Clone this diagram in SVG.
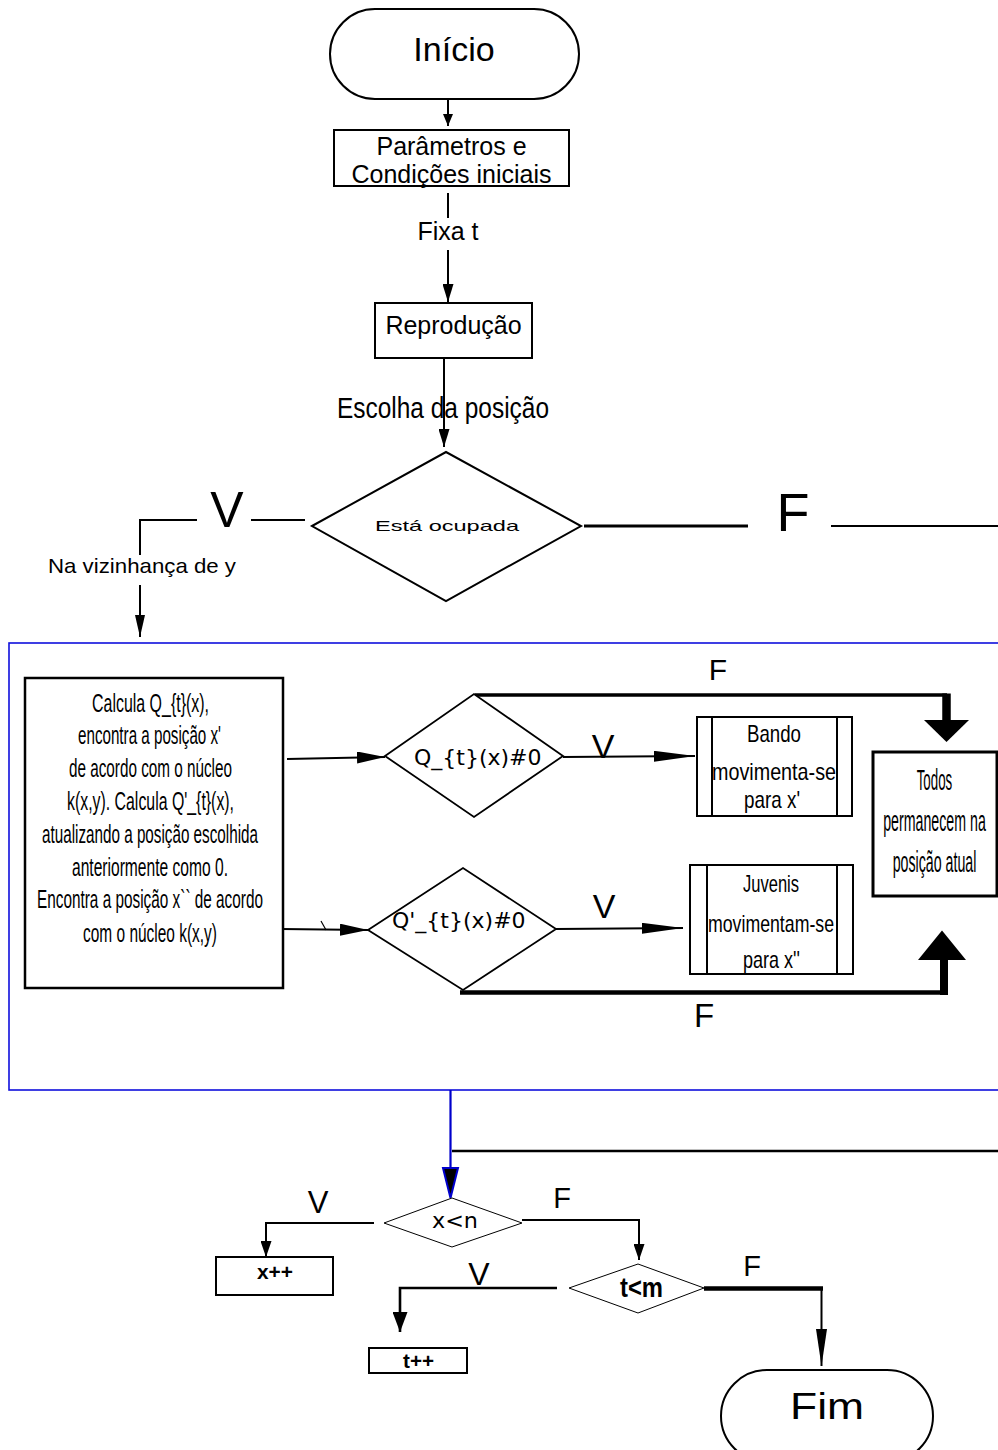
<svg xmlns="http://www.w3.org/2000/svg" width="998" height="1450" viewBox="0 0 998 1450">
<style>
.n{fill:#fff;stroke:#000;stroke-width:2}
.thin{fill:#fff;stroke:#000;stroke-width:1}
.c{fill:none;stroke:#000;stroke-width:2}
.ck{fill:none;stroke:#000;stroke-width:3.5}
.t{font-family:"Liberation Sans",Arial,sans-serif;fill:#000}
.d{font-family:"DejaVu Sans","Liberation Sans",sans-serif;fill:#000}
.m{text-anchor:middle}
</style>
<defs>
<marker id="mA" markerUnits="userSpaceOnUse" markerWidth="12" markerHeight="10" refX="12" refY="5" orient="auto"><path d="M0,0 L12,5 L0,10 z"/></marker>
<marker id="mB" markerUnits="userSpaceOnUse" markerWidth="18" markerHeight="11" refX="18" refY="5.5" orient="auto"><path d="M0,0 L18,5.5 L0,11 z"/></marker>
<marker id="mC" markerUnits="userSpaceOnUse" markerWidth="22" markerHeight="10" refX="22" refY="5" orient="auto"><path d="M0,0 L22,5 L0,10 z"/></marker>
<marker id="mIn" markerUnits="userSpaceOnUse" markerWidth="28" markerHeight="12" refX="28" refY="6" orient="auto"><path d="M0,0 L28,6 L0,12 z"/></marker>
<marker id="mL" markerUnits="userSpaceOnUse" markerWidth="41" markerHeight="11" refX="41" refY="5.5" orient="auto"><path d="M0,0 L41,5.5 L0,11 z"/></marker>
<marker id="mD" markerUnits="userSpaceOnUse" markerWidth="16" markerHeight="11" refX="16" refY="5.5" orient="auto"><path d="M0,0 L16,5.5 L0,11 z"/></marker>
<marker id="mE" markerUnits="userSpaceOnUse" markerWidth="20" markerHeight="15" refX="20" refY="7.5" orient="auto"><path d="M0,0 L20,7.5 L0,15 z"/></marker>
<marker id="mF" markerUnits="userSpaceOnUse" markerWidth="37" markerHeight="11" refX="37" refY="5.5" orient="auto"><path d="M0,0 L37,5.5 L0,11 z"/></marker>
</defs>

<!-- blue frame -->
<rect id="frame" x="9" y="643" width="1000" height="447" fill="none" stroke="#1010dd" stroke-width="1.6"/>

<g id="connectors">
  <line class="c" x1="448" y1="95" x2="448" y2="126" marker-end="url(#mA)"/>
  <line class="c" x1="448" y1="193" x2="448" y2="218"/>
  <line class="c" x1="448" y1="250" x2="448" y2="302" marker-end="url(#mB)"/>
  <line class="c" x1="444" y1="358" x2="444" y2="447" marker-end="url(#mB)"/>
  <!-- Está ocupada V -->
  <polyline class="c" points="197,520 140,520 140,555"/>
  <line class="c" x1="251" y1="520" x2="305" y2="520"/>
  <line class="c" x1="140" y1="585" x2="140" y2="637" marker-end="url(#mC)"/>
  <!-- Está ocupada F -->
  <line class="ck" x1="584" y1="526" x2="748" y2="526" style="stroke-width:3"/>
  <line class="c" x1="831" y1="526" x2="998" y2="526"/>
  <!-- inner -->
  <line class="c" x1="287" y1="759" x2="385" y2="757" marker-end="url(#mIn)"/>
  <line class="c" x1="281" y1="929" x2="368" y2="930" marker-end="url(#mIn)"/>
  <line class="c" x1="321" y1="921" x2="326" y2="930" style="stroke-width:1.2"/>
  <line class="c" x1="563" y1="757" x2="695" y2="756" marker-end="url(#mL)"/>
  <line class="c" x1="556" y1="929" x2="683" y2="928" marker-end="url(#mL)"/>
  <!-- F top -->
  <polyline class="ck" points="475,695 947,695" style="stroke-width:3.3"/>
  <line x1="946.5" y1="693.5" x2="946.5" y2="721" stroke="#000" stroke-width="8.5"/>
  <polygon points="924,720 969,720 946.5,742" fill="#000"/>
  <!-- F bottom -->
  <line x1="460" y1="992.5" x2="948" y2="992.5" stroke="#000" stroke-width="4.5"/>
  <line x1="944" y1="995" x2="944" y2="959" stroke="#000" stroke-width="8"/>
  <polygon points="918,960 966,960 942,930.5" fill="#000"/>
  <!-- bottom loop -->
  <line x1="450.5" y1="1090" x2="450.5" y2="1168" stroke="#0000cc" stroke-width="2.2"/>
  <polygon points="443,1168 458,1168 450.5,1198" fill="#000" stroke="#0000cc" stroke-width="2"/>
  <line x1="452" y1="1151" x2="998" y2="1151" stroke="#000" stroke-width="2.6"/>
  <polyline class="c" points="374,1223 266,1223 266,1257" marker-end="url(#mD)"/>
  <polyline class="c" points="522,1220 639,1220 639,1260" marker-end="url(#mD)"/>
  <polyline class="c" points="557,1288 400,1288 400,1332" style="stroke-width:2.6" marker-end="url(#mE)"/>
  <line x1="704" y1="1288.5" x2="823" y2="1288.5" stroke="#000" stroke-width="4.5"/>
  <line class="c" x1="821.5" y1="1287" x2="821.5" y2="1366" marker-end="url(#mF)"/>
</g>

<g id="inicio">
  <rect class="n" x="330" y="9" width="249" height="90" rx="45"/>
  <text class="t m" x="454" y="61" font-size="34">Início</text>
</g>
<g id="parametros">
  <rect class="n" x="334" y="130" width="235" height="56"/>
  <text class="t m" x="451.5" y="155" font-size="25">Parâmetros e</text>
  <text class="t m" x="451.5" y="183" font-size="25">Condições iniciais</text>
</g>
<g id="fixa">
  <text class="t m" x="448" y="240" font-size="25">Fixa t</text>
</g>
<g id="reproducao">
  <rect class="n" x="375" y="303" width="157" height="55"/>
  <text class="t m" x="453.5" y="334" font-size="25">Reprodução</text>
</g>
<g id="escolha">
  <text class="t" x="337" y="418" font-size="29" textLength="212" lengthAdjust="spacingAndGlyphs">Escolha da posição</text>
</g>
<g id="ocupada">
  <polygon class="n" points="312,526 446,452 581,526 446,601"/>
  <text class="t" x="375" y="531" font-size="15" textLength="144" lengthAdjust="spacingAndGlyphs">Está ocupada</text>
  <text class="t m" x="227" y="527" font-size="50">V</text>
  <text class="t m" x="793" y="531" font-size="54">F</text>
  <text class="t" x="48" y="573" font-size="21" textLength="188" lengthAdjust="spacingAndGlyphs">Na vizinhança de y</text>
</g>

<g id="calcula">
  <rect class="n" x="25" y="678" width="258" height="310" style="stroke-width:2.5"/>
  <g class="t" font-size="25">
    <text x="92" y="712" textLength="117" lengthAdjust="spacingAndGlyphs">Calcula Q_{t}(x),</text>
    <text x="78" y="744" textLength="143" lengthAdjust="spacingAndGlyphs">encontra a posição x'</text>
    <text x="69" y="777" textLength="163" lengthAdjust="spacingAndGlyphs">de acordo com o núcleo</text>
    <text x="67" y="810" textLength="167" lengthAdjust="spacingAndGlyphs">k(x,y). Calcula Q'_{t}(x),</text>
    <text x="42" y="843" textLength="216" lengthAdjust="spacingAndGlyphs">atualizando a posição escolhida</text>
    <text x="72" y="876" textLength="156" lengthAdjust="spacingAndGlyphs">anteriormente como 0.</text>
    <text x="37" y="908" textLength="226" lengthAdjust="spacingAndGlyphs">Encontra a posição x`` de acordo</text>
    <text x="83" y="942" textLength="134" lengthAdjust="spacingAndGlyphs">com o núcleo k(x,y)</text>
  </g>
</g>

<g id="q1">
  <polygon class="n" points="385,756 474,694 563,756 474,817" style="stroke-width:1.8"/>
  <text class="d" x="414" y="765" font-size="22">Q_{t}(x)#0</text>
  <text class="t m" x="718" y="680" font-size="30">F</text>
  <text class="t m" x="603" y="758" font-size="34">V</text>
</g>
<g id="q2">
  <polygon class="n" points="368,930 463,868 556,929 463,990" style="stroke-width:1.8"/>
  <text class="d" x="392" y="928" font-size="22">Q'_{t}(x)#0</text>
  <text class="t m" x="604" y="918" font-size="34">V</text>
  <text class="t m" x="704" y="1027" font-size="33">F</text>
</g>

<g id="bando">
  <rect class="n" x="697" y="717" width="155" height="99"/>
  <line class="c" x1="712" y1="717" x2="712" y2="816"/>
  <line class="c" x1="837" y1="717" x2="837" y2="816"/>
  <g class="t" font-size="24">
    <text x="747" y="742" textLength="54" lengthAdjust="spacingAndGlyphs">Bando</text>
    <text x="712" y="780" textLength="124" lengthAdjust="spacingAndGlyphs">movimenta-se</text>
    <text x="744" y="808" textLength="56" lengthAdjust="spacingAndGlyphs">para x'</text>
  </g>
</g>
<g id="juvenis">
  <rect class="n" x="690" y="865" width="163" height="109"/>
  <line class="c" x1="707" y1="865" x2="707" y2="974"/>
  <line class="c" x1="837" y1="865" x2="837" y2="974"/>
  <g class="t" font-size="24">
    <text x="743" y="892" textLength="56" lengthAdjust="spacingAndGlyphs">Juvenis</text>
    <text x="708" y="932" textLength="126" lengthAdjust="spacingAndGlyphs">movimentam-se</text>
    <text x="743" y="968" textLength="57" lengthAdjust="spacingAndGlyphs">para x''</text>
  </g>
</g>
<g id="todos">
  <rect class="n" x="873" y="752" width="124" height="144" style="stroke-width:3"/>
  <g class="t m" font-size="29">
    <text transform="translate(934.5,790) scale(0.46,1)">Todos</text>
    <text transform="translate(934.5,831) scale(0.49,1)">permanecem na</text>
    <text transform="translate(934.5,872) scale(0.49,1)">posição atual</text>
  </g>
</g>

<g id="xn">
  <polygon class="thin" points="384,1223 452,1198 522,1223 452,1247"/>
  <text class="d" x="432" y="1228" font-size="21" textLength="46" lengthAdjust="spacingAndGlyphs">x&lt;n</text>
  <text class="t m" x="318" y="1213" font-size="31">V</text>
  <text class="t m" x="562" y="1208" font-size="29">F</text>
</g>
<g id="xpp">
  <rect class="n" x="216" y="1257" width="117" height="38"/>
  <text class="t" x="257" y="1279" font-size="20" font-weight="bold" textLength="36" lengthAdjust="spacingAndGlyphs">x++</text>
</g>
<g id="tm">
  <polygon class="thin" points="569,1288 638,1264 704,1288 638,1313"/>
  <text class="t" x="620" y="1297" font-size="28" font-weight="bold" textLength="43" lengthAdjust="spacingAndGlyphs">t&lt;m</text>
  <text class="t m" x="479" y="1285" font-size="32">V</text>
  <text class="t m" x="752" y="1276" font-size="29">F</text>
</g>
<g id="tpp">
  <rect class="n" x="369" y="1348" width="98" height="25"/>
  <text class="t" x="403" y="1368" font-size="20" font-weight="bold" textLength="31" lengthAdjust="spacingAndGlyphs">t++</text>
</g>
<g id="fim">
  <rect class="n" x="721" y="1370" width="212" height="92" rx="46"/>
  <text class="t" x="790" y="1419" font-size="36" textLength="74" lengthAdjust="spacingAndGlyphs">Fim</text>
</g>
</svg>
